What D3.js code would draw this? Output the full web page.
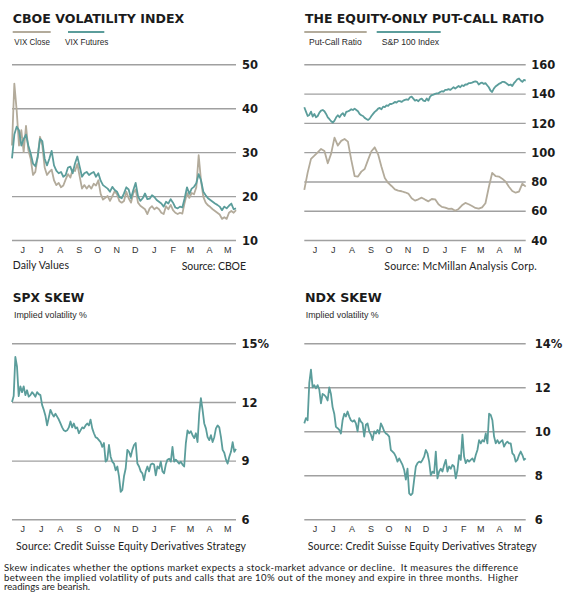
<!DOCTYPE html>
<html>
<head>
<meta charset="utf-8">
<script src="https://cdn.jsdelivr.net/npm/d3@7"></script>
<style>
  body { margin: 0; background: #fff; }
  svg { display: block; }
  .title { font-family: 'DejaVu Sans', sans-serif; font-weight: bold; fill: #1b1b1b; }
  .legend, .sub { font-family: 'Liberation Sans Narrow', 'Arial Narrow', 'Liberation Sans', sans-serif; font-size: 9.8px; fill: #2a2a2a; }
  .note { font-family: Lato, 'Noto Sans', sans-serif; fill: #222; white-space: pre; }
  .yaxis text { font-family: 'DejaVu Sans', sans-serif; font-weight: bold; font-size: 11.5px; fill: #1b1b1b; }
  .xaxis text { font-family: 'Liberation Sans', sans-serif; font-size: 9px; fill: #333; }
</style>
</head>
<body>
<svg id="chart" width="565" height="601"></svg>
<script>
// one year of data, late May 2010 to late May 2011
var startDate = new Date(2010, 4, 20), endDate = new Date(2011, 4, 20);

var vixClose = [31.5, 45.6, 39.5, 31.5, 35.0, 30.0, 36.0, 30.5, 28.5, 24.8,
  25.5, 29.0, 33.5, 31.5, 26.5, 24.8, 25.5, 26.0, 23.6, 22.5,
  23.0, 22.0, 22.4, 23.8, 25.0, 24.2, 26.0, 25.7, 27.3, 24.5,
  21.7, 22.5, 21.7, 22.4, 21.7, 22.8, 22.4, 23.6, 20.5, 19.2,
  19.6, 20.0, 18.9, 20.0, 21.1, 20.4, 18.9, 18.5, 18.9, 21.0,
  19.5, 18.5, 20.7, 21.5, 18.5, 17.8, 17.4, 17.0, 15.9, 17.2,
  17.7, 17.0, 17.4, 17.0, 16.2, 15.9, 17.7, 17.0, 18.0, 16.8,
  16.2, 15.9, 16.2, 16.0, 18.5, 20.7, 19.6, 20.7, 20.4, 22.0,
  29.3, 23.5, 19.8, 18.5, 17.9, 17.5, 17.0, 16.6, 16.2, 15.8,
  14.8, 15.2, 14.8, 16.2, 16.6, 16.2, 16.8];

var vixFutures = [28.6, 34.0, 35.8, 35.0, 31.5, 33.0, 34.0, 31.5, 29.7, 27.4,
  26.8, 28.9, 33.0, 32.5, 28.5, 27.0, 28.5, 30.3, 27.0, 25.8,
  25.2, 25.5, 24.4, 24.8, 26.5, 26.7, 25.2, 27.4, 29.0, 26.7,
  24.4, 25.2, 25.5, 24.8, 25.2, 25.5, 24.4, 25.2, 23.5, 22.5,
  22.1, 21.7, 21.0, 22.1, 21.4, 21.0, 19.8, 19.5, 20.6, 22.0,
  21.5, 19.5, 21.4, 23.0, 20.0, 18.9, 19.5, 20.6, 19.3, 19.4,
  20.2, 19.8, 19.1, 18.7, 18.3, 17.6, 18.7, 18.3, 19.3, 18.5,
  17.4, 17.2, 17.6, 17.4, 19.5, 22.0, 20.5, 21.7, 22.1, 22.9,
  25.0, 23.6, 21.0, 20.2, 19.5, 19.1, 18.7, 18.3, 18.0, 17.6,
  16.8, 17.6, 17.2, 17.8, 18.3, 17.0, 17.2];

var putCallRatio = [74.2, 86, 95.4, 97.6, 99.9, 102.2, 100.8, 92.4, 99, 109.9,
  104.5, 107.7, 109, 107.2, 94.7, 83.7, 83.3, 86.7, 88.5, 94.7,
  100.6, 103.3, 98.5, 90.1, 82.4, 79, 76.9, 74.6, 73.7, 73.3,
  72.6, 71.7, 68.5, 66.9, 67.8, 68.9, 67.6, 66.4, 68, 67.8,
  64.4, 62.6, 62.1, 61.2, 61.4, 60, 61.2, 63.7, 65.3, 64.4,
  63.2, 61.9, 61.4, 62.3, 65.1, 76, 85.8, 83.7, 83.3, 81.9,
  79.9, 76.4, 73.5, 72.3, 73, 78.5, 76.5];

var sp100 = [130.7, 127.7, 124.7, 125.4, 127.7, 124.3, 126.1, 123.8, 124.7, 127.0,
  128.4, 128.8, 127.9, 126.1, 123.8, 122.5, 121.1, 120.2, 121.5, 123.8,
  125.2, 123.8, 125.6, 126.6, 124.7, 127.5, 127.9, 128.4, 129.3, 128.8,
  129.7, 128.8, 127.9, 126.1, 125.2, 124.7, 123.4, 122.7, 122.0, 122.9,
  124.7, 126.1, 127.5, 128.4, 129.7, 130.2, 129.3, 131.1, 130.7, 132.0,
  131.6, 132.9, 132.9, 133.4, 134.3, 133.8, 134.8, 134.8, 134.3, 135.2,
  135.7, 136.1, 135.7, 137.5, 137.9, 136.6, 135.2, 135.7, 134.8, 136.1,
  136.6, 135.2, 134.8, 136.6, 135.2, 137.9, 138.9, 139.3, 139.8, 140.2,
  140.2, 141.1, 141.6, 141.4, 142.5, 142.5, 143.0, 142.5, 143.4, 144.3,
  143.4, 144.3, 145.2, 144.3, 145.7, 145.2, 146.2, 146.2, 147.1, 147.1,
  147.5, 148.0, 148.4, 148.0, 146.2, 147.1, 147.5, 146.6, 147.1, 145.7,
  144.3, 142.1, 141.1, 143.4, 144.8, 145.7, 146.6, 147.1, 148.0, 148.0,
  147.5, 146.6, 145.7, 146.2, 145.2, 147.1, 148.4, 149.8, 150.3, 148.9,
  148.0, 149.3, 148.9];

var spxSkew = [12.0, 12.3, 14.3, 13.8, 12.3, 12.8, 12.5, 12.8, 12.35, 12.6,
  12.27, 12.35, 12.5, 12.4, 12.27, 12.5, 12.4, 12.35,
  11.85, 11.6, 11.3, 10.8, 11.2, 11.6, 11.4, 11.25, 11.4, 11.25,
  11.1, 10.9, 10.7, 10.55, 10.5, 10.55, 10.7, 11.0, 10.7, 10.9,
  10.65, 10.7, 10.4, 10.55, 10.7, 10.65, 10.8, 10.9, 10.8, 11.1,
  10.65, 10.4, 10.2, 10.15, 10.05, 9.95, 9.7, 9.9, 8.95, 9.05,
  9.8, 9.2, 8.95, 8.85, 8.5, 8.7, 8.2, 7.4, 7.5, 8.2,
  8.6, 9.55, 9.45, 9.2, 9.55, 9.8, 9.9, 8.85, 8.7, 8.45,
  8.35, 8.0, 8.45, 8.7, 8.45, 8.8, 8.85, 8.8, 8.25, 8.7,
  8.6, 8.95, 8.45, 8.35, 8.8, 9.05, 9.1, 8.95, 9.7, 8.95,
  9.05, 8.95, 8.85, 8.95, 8.8, 8.7, 9.9, 10.55, 10.4, 10.5,
  10.3, 10.15, 10.4, 9.95, 11.4, 12.2, 11.6, 10.9, 10.65, 10.2,
  10.05, 10.3, 9.95, 10.2, 10.65, 10.8, 10.7, 10.2, 9.55, 9.4,
  9.05, 8.85, 9.2, 9.45, 9.95, 9.45, 9.6];

var ndxSkew = [10.36, 10.6, 10.5, 12.2, 12.8, 12.0, 12.1, 11.95, 12.1, 11.9,
  11.27, 11.7, 11.65, 11.57, 11.4, 12.0, 11.7, 11.1, 10.8, 10.2,
  10.14, 10.06, 9.9, 10.5, 10.8, 10.67, 10.9, 10.67, 10.5, 10.44,
  10.5, 10.36, 10.0, 10.6, 10.44, 10.36, 9.76, 10.3, 10.36, 10.0,
  9.85, 9.6, 10.0, 9.9, 10.06, 9.9, 10.36, 10.2, 10.0, 9.9,
  9.85, 9.76, 9.15, 9.08, 9.0, 8.85, 8.62, 8.77, 8.62, 8.47,
  8.24, 7.8, 8.3, 7.18, 7.1, 7.18, 7.8, 8.4, 8.55, 8.62,
  8.58, 8.7, 8.85, 9.15, 9.0, 8.62, 8.0, 8.17, 8.1, 9.08,
  7.86, 8.17, 8.3, 8.17, 8.47, 8.7, 8.17, 8.4, 8.3, 8.47,
  8.4, 7.86, 8.24, 8.92, 8.7, 9.85, 8.85, 8.55, 8.7, 8.62,
  8.7, 8.77, 8.62, 8.92, 9.15, 9.6, 9.45, 9.6, 9.53, 9.9,
  9.45, 10.8, 10.74, 10.5, 9.76, 9.45, 9.6, 9.45, 9.53, 9.6,
  9.3, 9.45, 9.53, 9.45, 9.45, 9.0, 8.92, 8.62, 8.7, 8.92,
  9.08, 8.92, 8.7, 8.77];

var vixTicks = [10, 20, 30, 40, 50];
var ratioTicks = [40, 60, 80, 100, 120, 140, 160];
var spxTicks = [6, 9, 12, 15];
var ndxTicks = [6, 8, 10, 12, 14];

var TEAL = '#5b9d9b', TAUPE = '#b3ab9b';

var svg = d3.select('#chart');

// spread a series evenly over the date range
function spread(values){
  var idx = d3.scaleLinear().domain([0, values.length - 1]).range([+startDate, +endDate]);
  return values.map(function(v, i){ return {date: new Date(idx(i)), value: v}; });
}

function drawPanel(p){
  var g = svg.append('g');
  var x = d3.scaleTime().domain([startDate, endDate]).range([p.left, p.right]);
  var y = d3.scaleLinear().domain([p.ticks[0], p.ticks[p.ticks.length - 1]]).range([p.bottom, p.top]);

  // gridlines + value labels
  var yAxis = d3.axisRight(y)
    .tickValues(p.ticks)
    .tickSize(-(p.right - p.left))
    .tickPadding(p.pad)
    .tickFormat(function(d, i){
      return (p.pct && i == p.ticks.length - 1) ? d + '%' : d;
    });
  var ya = g.append('g').attr('class', 'yaxis')
    .attr('transform', 'translate(' + p.right + ',0)')
    .call(yAxis);
  ya.select('.domain').remove();
  ya.selectAll('line').attr('stroke', '#a0a0a0').attr('stroke-width', 1.4);
  ya.selectAll('text').attr('dy', '0.36em');

  // month letters
  var months = d3.timeMonth.range(new Date(2010, 5, 1), new Date(2011, 5, 1));
  var xAxis = d3.axisBottom(x)
    .tickValues(months)
    .tickSize(0)
    .tickFormat(function(d){ return d3.timeFormat('%b')(d).charAt(0); });
  var xa = g.append('g').attr('class', 'xaxis')
    .attr('transform', 'translate(0,' + p.monthY + ')')
    .call(xAxis);
  xa.select('.domain').remove();
  xa.selectAll('text').attr('y', 0).attr('dy', 0).attr('dx', 3);

  var line = d3.line()
    .x(function(d){ return x(d.date); })
    .y(function(d){ return y(d.value); });

  p.series.forEach(function(s){
    g.append('path')
      .datum(spread(s.values))
      .attr('d', line)
      .attr('fill', 'none')
      .attr('stroke', s.color)
      .attr('stroke-width', 1.8)
      .attr('stroke-linejoin', 'round');
  });

  // title
  g.append('text').attr('class', 'title')
    .attr('x', p.left + 0.7).attr('y', p.titleY)
    .style('font-size', p.titleSize + 'px')
    .attr('textLength', p.titleW).attr('lengthAdjust', 'spacingAndGlyphs')
    .text(p.title);

  // legend swatches
  (p.legend || []).forEach(function(l){
    g.append('line')
      .attr('x1', l.x1).attr('x2', l.x2).attr('y1', 32).attr('y2', 32)
      .attr('stroke', l.color).attr('stroke-width', 1.8);
    g.append('text').attr('class', 'legend')
      .attr('x', l.tx).attr('y', 44.7)
      .attr('textLength', l.w).attr('lengthAdjust', 'spacingAndGlyphs')
      .text(l.label);
  });

  if(p.sub){
    g.append('text').attr('class', 'sub')
      .attr('x', p.sub.x).attr('y', 317.5)
      .attr('textLength', 73).attr('lengthAdjust', 'spacingAndGlyphs')
      .text(p.sub.label);
  }

  (p.notes || []).forEach(function(n){
    g.append('text').attr('class', 'note')
      .attr('x', n.x).attr('y', n.y)
      .attr('text-anchor', n.anchor || 'start')
      .style('font-size', '10.5px')
      .attr('textLength', n.w)
      .text(n.label);
  });
}

drawPanel({
  left: 12, right: 236, top: 64.3, bottom: 240, pad: 6, monthY: 253,
  ticks: vixTicks, title: 'CBOE VOLATILITY INDEX', titleY: 22.7, titleSize: 12.5, titleW: 171.6,
  series: [{values: vixClose, color: TAUPE}, {values: vixFutures, color: TEAL}],
  legend: [
    {x1: 12.7, x2: 50.7, tx: 14.3, w: 35.7, color: TAUPE, label: 'VIX Close'},
    {x1: 68, x2: 104.3, tx: 65, w: 43.3, color: TEAL, label: 'VIX Futures'}
  ],
  notes: [
    {x: 12.7, y: 269, w: 56.3, label: 'Daily Values'},
    {x: 246, y: 269.5, w: 64.3, anchor: 'end', label: 'Source: CBOE'}
  ]
});

drawPanel({
  left: 304.3, right: 525.7, top: 64.3, bottom: 240, pad: 5.5, monthY: 253,
  ticks: ratioTicks, title: 'THE EQUITY-ONLY PUT-CALL RATIO', titleY: 22.7, titleSize: 12.5, titleW: 239,
  series: [{values: putCallRatio, color: TAUPE}, {values: sp100, color: TEAL}],
  legend: [
    {x1: 304.3, x2: 366.7, tx: 309, w: 52.7, color: TAUPE, label: 'Put-Call Ratio'},
    {x1: 376.7, x2: 440.7, tx: 381.7, w: 57.3, color: TEAL, label: 'S&P 100 Index'}
  ],
  notes: [
    {x: 536.7, y: 269.5, w: 152.4, anchor: 'end', label: 'Source: McMillan Analysis Corp.'}
  ]
});

drawPanel({
  left: 12, right: 236, top: 343.3, bottom: 519.3, pad: 5.5, monthY: 532, pct: true,
  ticks: spxTicks, title: 'SPX SKEW', titleY: 301.7, titleSize: 13, titleW: 71.6,
  series: [{values: spxSkew, color: TEAL}],
  sub: {x: 14, label: 'Implied volatility %'},
  notes: [
    {x: 16, y: 549.5, w: 230, label: 'Source: Credit Suisse Equity Derivatives Strategy'}
  ]
});

drawPanel({
  left: 304.3, right: 525.7, top: 343.3, bottom: 519.3, pad: 9, monthY: 532, pct: true,
  ticks: ndxTicks, title: 'NDX SKEW', titleY: 301.7, titleSize: 13, titleW: 76.7,
  series: [{values: ndxSkew, color: TEAL}],
  sub: {x: 305.7, label: 'Implied volatility %'},
  notes: [
    {x: 307.7, y: 549.5, w: 229, label: 'Source: Credit Suisse Equity Derivatives Strategy'}
  ]
});

// footnote
var footLines = [
  {text: 'Skew indicates whether the options market expects a stock-market advance or decline.  It measures the difference', w: 514},
  {text: 'between the implied volatility of puts and calls that are 10% out of the money and expire in three months.  Higher', w: 514},
  {text: 'readings are bearish.', w: null}
];
footLines.forEach(function(l, i){
  var t = svg.append('text').attr('class', 'note')
    .attr('x', 4).attr('y', 570.8 + i * 9.7)
    .style('font-size', '9.6px')
    .text(l.text);
  if(l.w) t.attr('textLength', l.w);
});
</script>
</body>
</html>
